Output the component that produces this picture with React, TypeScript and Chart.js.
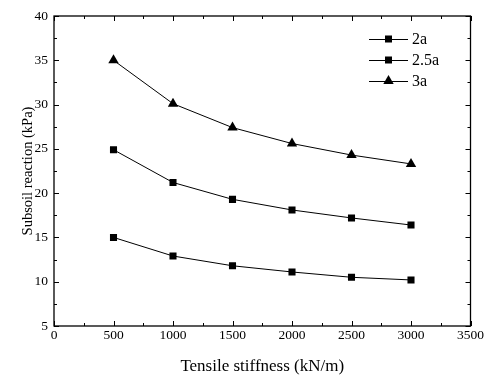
import { useEffect, useRef } from "react";
import { Chart, registerables } from "chart.js";

Chart.register(...registerables);

const stiffness = [500, 1000, 1500, 2000, 2500, 3000];
const series2a = [15.0, 12.9, 11.8, 11.1, 10.5, 10.2];
const series25a = [24.9, 21.2, 19.3, 18.1, 17.2, 16.4];
const series3a = [35.0, 30.1, 27.4, 25.6, 24.3, 23.3];
const seriesLabels = ["2a", "2.5a", "3a"];
const seriesMarkers = ["rect", "rect", "triangle"];
const xTitle = "Tensile stiffness (kN/m)";
const yTitle = "Subsoil reaction (kPa)";

const FONT = "'Liberation Serif', 'Times New Roman', serif";

const framePlugin = {
  id: "frame",
  afterDraw(chart: any) {
    const { ctx, chartArea } = chart;
    const { left, right, top, bottom } = chartArea;
    const xs = chart.scales.x;
    const ys = chart.scales.y;
    ctx.save();
    ctx.strokeStyle = "#000";
    ctx.lineWidth = 1.3;
    ctx.strokeRect(left, top, right - left, bottom - top);
    ctx.lineWidth = 1;
    ctx.beginPath();
    for (let v = 0; v <= 3500; v += 250) {
      const px = Math.round(xs.getPixelForValue(v)) + 0.5;
      const len = v % 500 === 0 ? 5 : 3;
      ctx.moveTo(px, bottom);
      ctx.lineTo(px, bottom - len);
      ctx.moveTo(px, top);
      ctx.lineTo(px, top + len);
    }
    for (let v = 5; v <= 40; v += 2.5) {
      const py = Math.round(ys.getPixelForValue(v)) + 0.5;
      const len = v % 5 === 0 ? 5 : 3;
      ctx.moveTo(left, py);
      ctx.lineTo(left + len, py);
      ctx.moveTo(right, py);
      ctx.lineTo(right - len, py);
    }
    ctx.stroke();

    // legend
    chart.data.datasets.forEach((ds: any, i: number) => {
      const y = 39 + i * 21;
      const x0 = 369;
      const x1 = 408;
      const cx = (x0 + x1) / 2;
      ctx.beginPath();
      ctx.lineWidth = 1;
      ctx.moveTo(x0, y + 0.5);
      ctx.lineTo(x1, y + 0.5);
      ctx.stroke();
      ctx.fillStyle = "#000";
      if (ds.pointStyle === "triangle") {
        const r = 6;
        ctx.beginPath();
        ctx.moveTo(cx, y - r);
        ctx.lineTo(cx + r * 0.866, y + r * 0.5);
        ctx.lineTo(cx - r * 0.866, y + r * 0.5);
        ctx.closePath();
        ctx.fill();
      } else {
        ctx.fillRect(cx - 3.5, y - 3.5, 7, 7);
      }
      ctx.font = `16px ${FONT}`;
      ctx.textAlign = "left";
      ctx.textBaseline = "middle";
      ctx.fillText(ds.label, 412, y + 1);
    });
    ctx.restore();
  },
};

export default function App() {
  const ref = useRef<HTMLCanvasElement | null>(null);

  useEffect(() => {
    document.body.style.margin = "0";
    if (!ref.current) return;
    const allSeries = [series2a, series25a, series3a];
    const chart = new Chart(ref.current, {
      type: "scatter",
      data: {
        datasets: allSeries.map((s, i) => ({
          label: seriesLabels[i],
          data: stiffness.map((x, j) => ({ x, y: s[j] })),
          showLine: true,
          borderColor: "#000",
          backgroundColor: "#000",
          borderWidth: 1,
          pointStyle: seriesMarkers[i] as any,
          pointRadius: seriesMarkers[i] === "triangle" ? 6 : 5,
          pointBorderWidth: 0,
          pointBackgroundColor: "#000",
          pointBorderColor: "#000",
          tension: 0,
        })),
      },
      options: {
        animation: false,
        responsive: false,
        maintainAspectRatio: false,
        layout: { padding: { top: 16, right: 14, left: 0, bottom: 0 } },
        plugins: {
          legend: { display: false },
          tooltip: { enabled: false },
        },
        scales: {
          x: {
            type: "linear",
            min: 0,
            max: 3500,
            ticks: {
              stepSize: 500,
              color: "#000",
              font: { family: FONT, size: 13.5 },
              padding: 1,
              maxRotation: 0,
              callback: (v: any) => String(v),
            },
            grid: { display: false, drawTicks: false },
            border: { display: false },
            title: {
              display: true,
              text: xTitle,
              color: "#000",
              font: { family: FONT, size: 17 },
              padding: { top: 0, bottom: 0 },
            },
            afterFit: (s: any) => {
              s.height = 51;
            },
          },
          y: {
            type: "linear",
            min: 5,
            max: 40,
            ticks: {
              stepSize: 5,
              color: "#000",
              font: { family: FONT, size: 13.5 },
              padding: 6,
              callback: (v: any) => String(v),
            },
            grid: { display: false, drawTicks: false },
            border: { display: false },
            title: {
              display: true,
              text: yTitle,
              color: "#000",
              font: { family: FONT, size: 14.5 },
              padding: { top: 19, bottom: 0 },
            },
            afterFit: (s: any) => {
              s.width = 54;
            },
          },
        },
      },
      plugins: [framePlugin],
    });
    return () => chart.destroy();
  }, []);

  return (
    <div style={{ width: 485, height: 377, background: "#fff" }}>
      <canvas ref={ref} width={485} height={377} style={{ display: "block" }} />
    </div>
  );
}
